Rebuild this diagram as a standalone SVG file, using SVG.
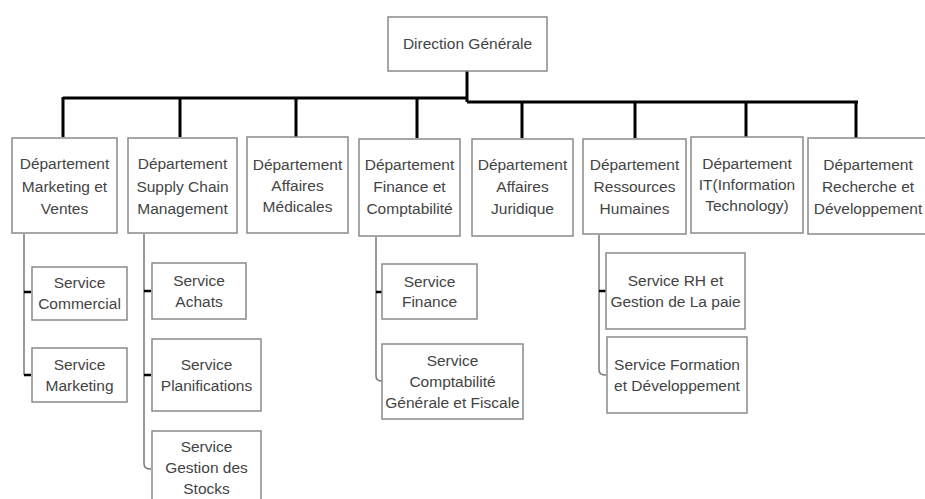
<svg xmlns="http://www.w3.org/2000/svg" width="925" height="499" viewBox="0 0 925 499">
<style>
.box{fill:#fff;stroke:#8a8a8a;stroke-width:1.5}
.t{font-family:"Liberation Sans",Arial,sans-serif;font-size:15.5px;fill:#444;text-anchor:middle}
.bus{stroke:#000;stroke-width:3;fill:none}
.sub{stroke:#7a7a7a;stroke-width:1.5;fill:none}
.tick{stroke:#000;stroke-width:2.5;fill:none}
</style>
<rect width="925" height="499" fill="#fff"/>
<g id="connectors">
<path class="bus" d="M467 71 V102 M63 98 H467 M467 102 H858"/>
<path class="bus" d="M63 97 V137 M180 98 V137 M296 98 V137 M417 98 V138 M522 102 V138 M635 102 V138 M746 102 V137 M856 102 V138"/>
<path class="sub" d="M24 234 V375"/>
<path class="tick" d="M24 292 H31 M24 375 H31"/>
<path class="sub" d="M144 234 V464 Q144 469 151 469"/>
<path class="tick" d="M144 291 H151 M144 375 H151"/>
<path class="sub" d="M376 237 V376 Q376 381 382 381"/>
<path class="tick" d="M376 292 H382"/>
<path class="sub" d="M599 235 V370 Q599 375 606 375"/>
<path class="tick" d="M599 291 H606"/>
</g>
<g id="direction">
<rect class="box" x="388" y="17" width="159" height="54"/>
<text class="t" x="467.5" y="49">Direction Générale</text>
</g>
<g id="dep-marketing">
<rect class="box" x="12" y="138" width="105" height="95"/>
<text class="t" x="64.5" y="169">Département</text>
<text class="t" x="64.5" y="192">Marketing et</text>
<text class="t" x="64.5" y="214">Ventes</text>
</g>
<g id="dep-supply">
<rect class="box" x="128" y="138" width="109" height="95"/>
<text class="t" x="182.5" y="169">Département</text>
<text class="t" x="182.5" y="192">Supply Chain</text>
<text class="t" x="182.5" y="214">Management</text>
</g>
<g id="dep-medicales">
<rect class="box" x="247" y="137" width="101" height="96"/>
<text class="t" x="297.5" y="170">Département</text>
<text class="t" x="297.5" y="191">Affaires</text>
<text class="t" x="297.5" y="212">Médicales</text>
</g>
<g id="dep-finance">
<rect class="box" x="359" y="139" width="101" height="97"/>
<text class="t" x="409.5" y="170">Département</text>
<text class="t" x="409.5" y="192">Finance et</text>
<text class="t" x="409.5" y="214">Comptabilité</text>
</g>
<g id="dep-juridique">
<rect class="box" x="472" y="139" width="101" height="97"/>
<text class="t" x="522.5" y="170">Département</text>
<text class="t" x="522.5" y="192">Affaires</text>
<text class="t" x="522.5" y="214">Juridique</text>
</g>
<g id="dep-rh">
<rect class="box" x="583" y="139" width="103" height="95"/>
<text class="t" x="634.5" y="170">Département</text>
<text class="t" x="634.5" y="192">Ressources</text>
<text class="t" x="634.5" y="214">Humaines</text>
</g>
<g id="dep-it">
<rect class="box" x="691" y="137" width="112" height="96"/>
<text class="t" x="747" y="169">Département</text>
<text class="t" x="747" y="190">IT(Information</text>
<text class="t" x="747" y="211">Technology)</text>
</g>
<g id="dep-rd">
<rect class="box" x="808" y="138" width="125" height="96"/>
<text class="t" x="868" y="170">Département</text>
<text class="t" x="868" y="192">Recherche et</text>
<text class="t" x="868" y="214">Développement</text>
</g>
<g id="svc-commercial">
<rect class="box" x="32" y="267" width="95" height="53"/>
<text class="t" x="79.5" y="288">Service</text>
<text class="t" x="79.5" y="309">Commercial</text>
</g>
<g id="svc-marketing">
<rect class="box" x="32" y="348" width="95" height="54"/>
<text class="t" x="79.5" y="370">Service</text>
<text class="t" x="79.5" y="391">Marketing</text>
</g>
<g id="svc-achats">
<rect class="box" x="152" y="263" width="94" height="56"/>
<text class="t" x="199" y="286">Service</text>
<text class="t" x="199" y="307">Achats</text>
</g>
<g id="svc-planif">
<rect class="box" x="152" y="339" width="109" height="72"/>
<text class="t" x="206.5" y="370">Service</text>
<text class="t" x="206.5" y="391">Planifications</text>
</g>
<g id="svc-stocks">
<rect class="box" x="152" y="431" width="109" height="75"/>
<text class="t" x="206.5" y="452">Service</text>
<text class="t" x="206.5" y="473">Gestion des</text>
<text class="t" x="206.5" y="494">Stocks</text>
</g>
<g id="svc-finance">
<rect class="box" x="382" y="264" width="95" height="55"/>
<text class="t" x="429.5" y="287">Service</text>
<text class="t" x="429.5" y="307">Finance</text>
</g>
<g id="svc-compta">
<rect class="box" x="382" y="344" width="141" height="75"/>
<text class="t" x="452.5" y="366">Service</text>
<text class="t" x="452.5" y="387">Comptabilité</text>
<text class="t" x="452.5" y="408">Générale et Fiscale</text>
</g>
<g id="svc-rh">
<rect class="box" x="606" y="253" width="139" height="76"/>
<text class="t" x="675.5" y="286">Service RH et</text>
<text class="t" x="675.5" y="307">Gestion de La paie</text>
</g>
<g id="svc-formation">
<rect class="box" x="607" y="337" width="140" height="76"/>
<text class="t" x="677" y="370">Service Formation</text>
<text class="t" x="677" y="391">et Développement</text>
</g>
</svg>
